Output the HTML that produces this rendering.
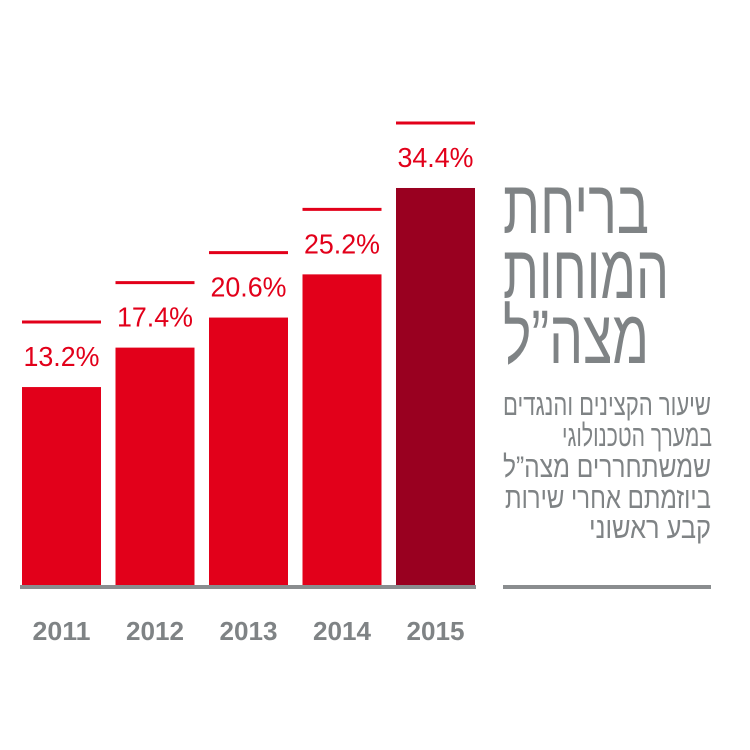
<!DOCTYPE html>
<html><head><meta charset="utf-8"><style>body{margin:0;background:#fff}svg{display:block}</style></head>
<body>
<svg id="chart" width="750" height="750" viewBox="0 0 750 750" xmlns="http://www.w3.org/2000/svg" font-family="'Liberation Sans', 'DejaVu Sans', sans-serif">
<g id="bars"></g>
<line x1="20" y1="587" x2="476" y2="587" stroke="#8a8d8f" stroke-width="4"/>
<g fill="#7f8385" font-size="76">
<text x="576" y="233" text-anchor="middle" textLength="146" lengthAdjust="spacingAndGlyphs">בריחת</text>
<text x="586" y="298" text-anchor="middle" textLength="166" lengthAdjust="spacingAndGlyphs">המוחות</text>
<text x="576" y="363" text-anchor="middle" textLength="146" lengthAdjust="spacingAndGlyphs">מצה”ל</text>
</g>
<g fill="#7f8385" font-size="30">
<text x="607" y="415" text-anchor="middle" textLength="208" lengthAdjust="spacingAndGlyphs">שיעור הקצינים והנגדים</text>
<text x="637" y="446" text-anchor="middle" textLength="150" lengthAdjust="spacingAndGlyphs">במערך הטכנולוגי</text>
<text x="607" y="477" text-anchor="middle" textLength="208" lengthAdjust="spacingAndGlyphs">שמשתחררים מצה”ל</text>
<text x="608" y="508" text-anchor="middle" textLength="206" lengthAdjust="spacingAndGlyphs">ביוזמתם אחרי שירות</text>
<text x="650" y="538" text-anchor="middle" textLength="122" lengthAdjust="spacingAndGlyphs">קבע ראשוני</text>
</g>
<line x1="503" y1="587" x2="711" y2="587" stroke="#8a8d8f" stroke-width="4"/>
</svg>
<script>
const years = ['2011','2012','2013','2014','2015'];
const values = [13.2, 17.4, 20.6, 25.2, 34.4];
const labels = ['13.2%','17.4%','20.6%','25.2%','34.4%'];
const NS='http://www.w3.org/2000/svg';
const base=585;
function yScale(v){return base-(74+9.39*v);}
function xScale(i){return 22+i*93.5;}
const bw=79;
const g=document.getElementById('bars');
function mk(t,a){const e=document.createElementNS(NS,t);for(const k in a)e.setAttribute(k,a[k]);return e;}
values.forEach((v,i)=>{
  const x=xScale(i), y=yScale(v);
  const last=i===values.length-1;
  const r=mk('rect',{x:x,y:y,width:bw,height:base-y,fill:last?'#990020':'#e2001a'});
  
  
  g.appendChild(r);
  const l=mk('line',{x1:x,x2:x+bw,y1:y-65,y2:y-65,stroke:'#e2001a','stroke-width':3});
  
  
  g.appendChild(l);
  const t=mk('text',{x:x+bw/2,y:y-21,'text-anchor':'middle',fill:'#e2001a','font-size':28,textLength:76,lengthAdjust:'spacingAndGlyphs'});
  t.textContent=labels[i];
  
  
  g.appendChild(t);
  const yl=mk('text',{x:x+bw/2,y:640,'text-anchor':'middle',fill:'#7f8385','font-size':26,'font-weight':'bold',textLength:58,lengthAdjust:'spacingAndGlyphs'});
  yl.textContent=years[i];
  
  
  g.appendChild(yl);
});
</script>
</body></html>
